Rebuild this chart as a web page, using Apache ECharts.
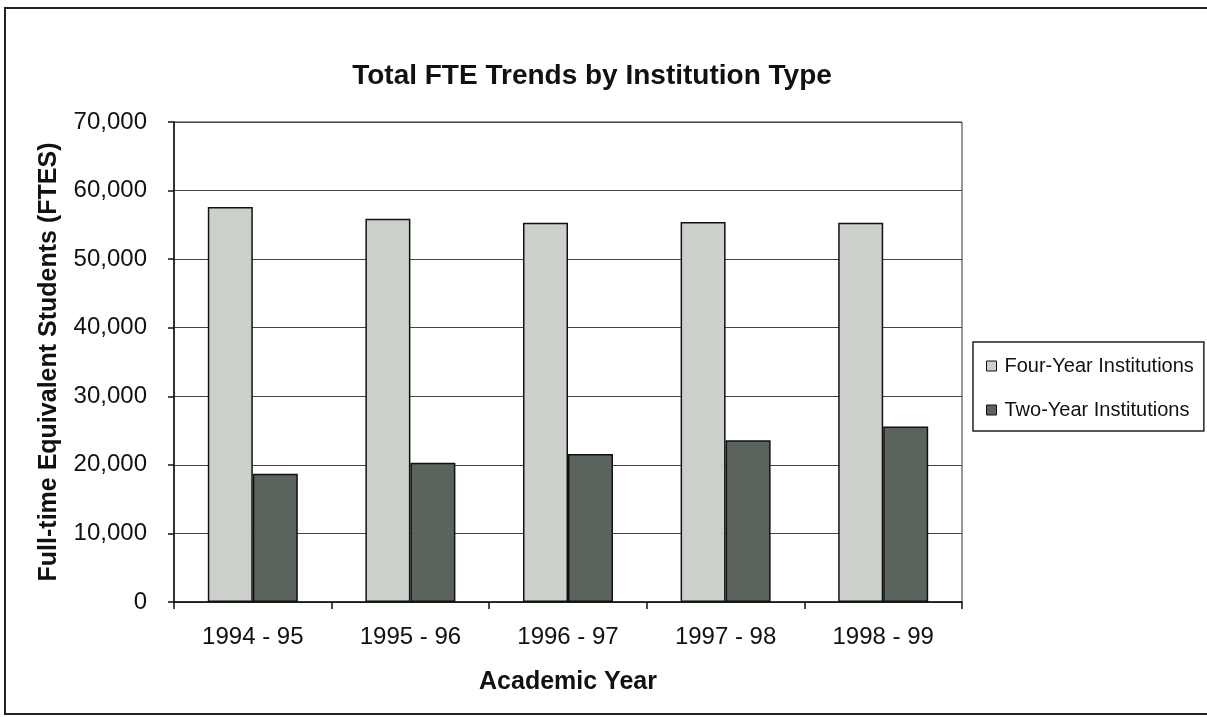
<!DOCTYPE html>
<html>
<head>
<meta charset="utf-8">
<script src="https://cdn.jsdelivr.net/npm/echarts@6/dist/echarts.min.js"></script>
<style>
html,body{margin:0;padding:0;background:#fff;}
#chart{width:1207px;height:717px;}
</style>
</head>
<body>
<div id="chart"></div>
<script>
const titleText = 'Total FTE Trends by Institution Type';
const categories = ['1994 - 95', '1995 - 96', '1996 - 97', '1997 - 98', '1998 - 99'];
const seriesNames = ['Four-Year Institutions', 'Two-Year Institutions'];
const fourYear = [57600, 55900, 55300, 55400, 55300];
const twoYear = [18700, 20300, 21600, 23600, 25600];
const yTicks = [0, 10000, 20000, 30000, 40000, 50000, 60000, 70000];
const xAxisTitle = 'Academic Year';
const yAxisTitle = 'Full-time Equivalent Students (FTES)';

const FONT = '"Liberation Sans", Arial, sans-serif';
const chart = echarts.init(document.getElementById('chart'), null, {renderer: 'canvas'});
chart.setOption({
  backgroundColor: '#fff',
  animation: false,
  title: {
    text: titleText,
    left: 587, top: 57, textAlign: 'center',
    textStyle: {fontFamily: FONT, fontSize: 28, fontWeight: 'bold', color: '#111'}
  },
  legend: {
    orient: 'vertical',
    left: 973, top: 342,
    data: seriesNames,
    icon: 'rect',
    itemWidth: 10, itemHeight: 10,
    itemGap: 24,
    padding: [14, 10, 11, 13],
    borderColor: '#222', borderWidth: 1.5,
    backgroundColor: '#fff',
    textStyle: {fontFamily: FONT, fontSize: 20, color: '#111', padding: [0, 0, 0, 3]},
    itemStyle: {borderColor: '#111', borderWidth: 1}
  },
  grid: {
    left: 174, right: 245, top: 122, bottom: 115,
    show: true, borderColor: '#333', borderWidth: 1
  },
  xAxis: {
    type: 'category',
    data: categories,
    name: xAxisTitle,
    nameLocation: 'middle',
    nameGap: 68,
    nameTextStyle: {fontFamily: FONT, fontSize: 25, fontWeight: 'bold', color: '#111'},
    axisLine: {lineStyle: {color: '#111', width: 1.5}},
    axisTick: {show: true, length: 7, lineStyle: {color: '#111', width: 1.5}},
    axisLabel: {fontFamily: FONT, fontSize: 24, color: '#111', margin: 23},
    splitLine: {show: false}
  },
  yAxis: {
    type: 'value',
    min: yTicks[0], max: yTicks[yTicks.length - 1], interval: 10000,
    name: yAxisTitle,
    nameLocation: 'middle',
    nameGap: 112,
    nameTextStyle: {fontFamily: FONT, fontSize: 25, fontWeight: 'bold', color: '#111'},
    axisLine: {show: true, lineStyle: {color: '#111', width: 1.5}},
    axisTick: {show: true, length: 6, lineStyle: {color: '#111', width: 1.5}},
    axisLabel: {
      fontFamily: FONT, fontSize: 24, color: '#111', margin: 27,
      formatter: v => v.toLocaleString('en-US')
    },
    splitLine: {show: true, lineStyle: {color: '#444', width: 1}}
  },
  series: [
    {
      name: seriesNames[0], type: 'bar', data: fourYear,
      barWidth: 45, barGap: '0%',
      itemStyle: {color: '#cbd0cb', borderColor: '#111', borderWidth: 1.5}
    },
    {
      name: seriesNames[1], type: 'bar', data: twoYear,
      barWidth: 45, barGap: '0%',
      itemStyle: {color: '#5a635c', borderColor: '#111', borderWidth: 1.5}
    }
  ],
  graphic: [{
    type: 'rect', silent: true, z: -1,
    shape: {x: 5, y: 8, width: 1210, height: 706},
    style: {fill: 'none', stroke: '#222', lineWidth: 2}
  }]
});
</script>
</body>
</html>
